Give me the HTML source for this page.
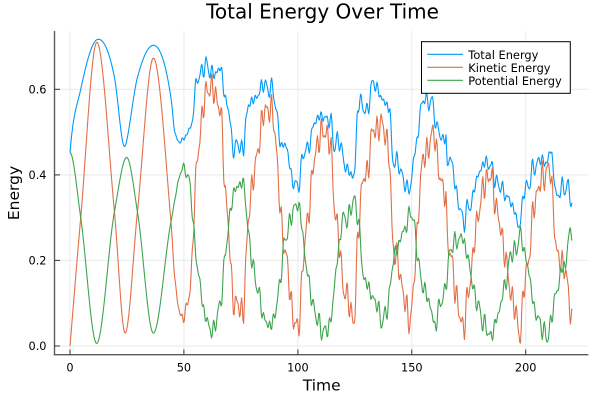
<!DOCTYPE html>
<html>
<head>
<meta charset="utf-8">
<style>
  html, body { margin: 0; padding: 0; background: #ffffff; }
  svg { display: block; }
  text { font-family: "DejaVu Sans", "Liberation Sans", sans-serif; fill: #000; }
</style>
</head>
<body>
<svg id="chart" width="600" height="400" viewBox="0 0 600 400" xmlns="http://www.w3.org/2000/svg">
  <rect x="0" y="0" width="600" height="400" fill="#ffffff"/>

  <!-- grid -->
  <g stroke="#e9e9e9" stroke-width="1">
    <line x1="70" y1="31" x2="70" y2="354.7"/>
    <line x1="183.9" y1="31" x2="183.9" y2="354.7"/>
    <line x1="297.9" y1="31" x2="297.9" y2="354.7"/>
    <line x1="411.8" y1="31" x2="411.8" y2="354.7"/>
    <line x1="525.7" y1="31" x2="525.7" y2="354.7"/>
    <line x1="54.5" y1="346" x2="588" y2="346"/>
    <line x1="54.5" y1="260.4" x2="588" y2="260.4"/>
    <line x1="54.5" y1="174.9" x2="588" y2="174.9"/>
    <line x1="54.5" y1="89.3" x2="588" y2="89.3"/>
  </g>

  <!-- series -->
  <g fill="none" stroke-width="1.1" stroke-linejoin="round">
    <path id="sT" stroke="#009AFA" d=""/>
    <path id="sK" stroke="#E36F47" d=""/>
    <path id="sP" stroke="#3EA44E" d=""/>
  </g>

  <!-- axes spines -->
  <g stroke="#5a5a5a" stroke-width="1.4" fill="none">
    <line x1="54.5" y1="31" x2="54.5" y2="355.4"/>
    <line x1="53.8" y1="354.7" x2="588.3" y2="354.7"/>
  </g>
  <!-- ticks (inward) -->
  <g stroke="#333" stroke-width="1">
    <line x1="70" y1="354.7" x2="70" y2="349.5"/>
    <line x1="183.9" y1="354.7" x2="183.9" y2="349.5"/>
    <line x1="297.9" y1="354.7" x2="297.9" y2="349.5"/>
    <line x1="411.8" y1="354.7" x2="411.8" y2="349.5"/>
    <line x1="525.7" y1="354.7" x2="525.7" y2="349.5"/>
    <line x1="54.5" y1="346" x2="60" y2="346"/>
    <line x1="54.5" y1="260.4" x2="60" y2="260.4"/>
    <line x1="54.5" y1="174.9" x2="60" y2="174.9"/>
    <line x1="54.5" y1="89.3" x2="60" y2="89.3"/>
  </g>

  <!-- tick labels -->
  <g font-size="11.3">
    <text x="70" y="371.5" text-anchor="middle">0</text>
    <text x="183.9" y="371.5" text-anchor="middle">50</text>
    <text x="297.9" y="371.5" text-anchor="middle">100</text>
    <text x="411.8" y="371.5" text-anchor="middle">150</text>
    <text x="525.7" y="371.5" text-anchor="middle">200</text>
    <text x="46.5" y="350.1" text-anchor="end">0.0</text>
    <text x="46.5" y="264.5" text-anchor="end">0.2</text>
    <text x="46.5" y="179" text-anchor="end">0.4</text>
    <text x="46.5" y="93.4" text-anchor="end">0.6</text>
  </g>

  <!-- title and axis labels -->
  <text x="322.5" y="18.5" font-size="20" text-anchor="middle">Total Energy Over Time</text>
  <text x="321.7" y="390.7" font-size="15.5" text-anchor="middle">Time</text>
  <text transform="translate(18.8,193) rotate(-90)" x="0" y="0" font-size="15.5" text-anchor="middle">Energy</text>

  <!-- legend -->
  <rect x="421.5" y="41.7" width="148.8" height="51.6" fill="#ffffff" stroke="#000" stroke-width="1"/>
  <line x1="427.3" y1="54.3" x2="463" y2="54.3" stroke="#009AFA" stroke-width="1.2"/>
  <line x1="427.3" y1="67.3" x2="463" y2="67.3" stroke="#E36F47" stroke-width="1.2"/>
  <line x1="427.3" y1="80.3" x2="463" y2="80.3" stroke="#3EA44E" stroke-width="1.2"/>
  <g font-size="11.4">
    <text x="468.3" y="58.8">Total Energy</text>
    <text x="468.3" y="71.8">Kinetic Energy</text>
    <text x="468.3" y="84.8">Potential Energy</text>
  </g>
</svg>

<script>
(function(){
  var K = [[0,0],[4.7,0.3],[11.8,0.71],[19.5,0.314],[24.2,0.03],[29.6,0.314],[36.6,0.673],[44.3,0.29],[46,0.16],[47.3,0.1],[49,0.067],[50.4,0.076],[52.6,0.13],[55.5,0.41],[58.4,0.55],[60.6,0.605],[63,0.595],[65,0.57],[66.5,0.52],[67.9,0.384],[69.4,0.287],[71.6,0.115],[74,0.09],[76,0.084],[77.4,0.21],[78.9,0.34],[81,0.404],[84,0.513],[86.2,0.556],[89,0.54],[90.5,0.466],[92.7,0.287],[94.9,0.21],[97.1,0.1],[100,0.037],[102.2,0.19],[104.4,0.3],[107.3,0.435],[109.5,0.49],[112.4,0.5],[114.6,0.45],[116,0.334],[117.5,0.27],[120.4,0.13],[122.5,0.1],[124.8,0.06],[126.2,0.24],[128.4,0.38],[130.6,0.41],[132.1,0.48],[134.3,0.51],[137,0.515],[140.1,0.44],[141.6,0.25],[144,0.19],[146.5,0.12],[148.9,0.06],[151.8,0.21],[154,0.4],[156,0.45],[158.4,0.48],[159.8,0.5],[161.2,0.443],[162.7,0.38],[164.9,0.36],[165.6,0.24],[167.8,0.2],[169.3,0.115],[171.5,0.069],[172.9,0.04],[174.4,0.115],[176.6,0.19],[178,0.27],[179.5,0.318],[181.7,0.373],[183.1,0.396],[185,0.39],[186.8,0.334],[189,0.27],[190.5,0.232],[192.6,0.147],[194.8,0.1],[197.4,0.03],[199.2,0.13],[201.4,0.21],[203.5,0.318],[205.7,0.373],[207.9,0.396],[210.1,0.416],[212.3,0.318],[213.7,0.21],[216.7,0.19],[218.9,0.115],[220.6,0.05]];
  var P = [[0,0.452],[4.7,0.3],[11.7,0.006],[19.5,0.314],[24.9,0.441],[29.6,0.314],[36.6,0.03],[44.3,0.29],[49.7,0.416],[51.5,0.4],[52.6,0.38],[54,0.287],[56.3,0.17],[59.2,0.076],[62.1,0.035],[64.3,0.06],[66.5,0.123],[68.7,0.24],[71.6,0.35],[74.5,0.38],[76.7,0.365],[78.1,0.27],[79.6,0.21],[81.8,0.147],[84,0.092],[86.9,0.047],[89.8,0.069],[92,0.147],[94.2,0.24],[97.1,0.3],[100,0.334],[102.2,0.256],[104.4,0.162],[107.3,0.084],[110.2,0.041],[112.4,0.033],[114.6,0.069],[116.8,0.178],[118.2,0.24],[119.7,0.295],[121.9,0.3],[124.8,0.34],[127,0.27],[128.4,0.178],[131.4,0.13],[134.3,0.1],[137.2,0.06],[139.4,0.092],[141.6,0.19],[143.7,0.232],[146.7,0.27],[149.6,0.31],[151.8,0.256],[153.2,0.178],[156.2,0.123],[159,0.076],[160.5,0.04],[162,0.1],[164.2,0.115],[166.4,0.21],[168.6,0.24],[170,0.248],[172.5,0.25],[174.4,0.21],[176.6,0.147],[178.7,0.1],[181.7,0.053],[184.6,0.025],[186.8,0.053],[189,0.1],[191.2,0.147],[193.3,0.21],[195.5,0.225],[197.7,0.256],[199.9,0.21],[202.1,0.147],[204.3,0.076],[206.5,0.053],[209.4,0.02],[211.6,0.076],[213.7,0.13],[215.9,0.178],[217.4,0.19],[218.9,0.256],[220.6,0.267]];

  function pchip(pts, startSlopeZero){
    var n = pts.length, x = [], y = [], h = [], d = [], m = [];
    for (var i=0;i<n;i++){ x.push(pts[i][0]); y.push(pts[i][1]); }
    for (i=0;i<n-1;i++){ h[i]=x[i+1]-x[i]; d[i]=(y[i+1]-y[i])/h[i]; }
    m[0] = startSlopeZero ? 0 : d[0];
    m[n-1] = d[n-2];
    for (i=1;i<n-1;i++){
      if (d[i-1]*d[i] <= 0) m[i]=0;
      else {
        var w1 = 2*h[i]+h[i-1], w2 = h[i]+2*h[i-1];
        m[i] = (w1+w2)/(w1/d[i-1] + w2/d[i]);
      }
    }
    return function(t){
      var j=0;
      while (j<n-2 && t>x[j+1]) j++;
      var hh=h[j], s=(t-x[j])/hh, s2=s*s, s3=s2*s;
      return (2*s3-3*s2+1)*y[j] + (s3-2*s2+s)*hh*m[j] + (-2*s3+3*s2)*y[j+1] + (s3-s2)*hh*m[j+1];
    };
  }

  var fK = pchip(K, false), fP = pchip(P, true);
  var TAU = Math.PI*2;
  function ramp(t){ var r=(t-44)/14; return r<0?0:(r>1?1:r); }
  function nKraw(t){ return 0.022*Math.sin(TAU*t/2.2+0.3) + 0.014*Math.sin(TAU*t/1.45+1.7) + 0.008*Math.sin(TAU*t/3.7+2.1); }
  function nK(t){ return ramp(t)*nKraw(t); }
  function nP(t){ return ramp(t)*(-0.55*nKraw(t) + 0.008*Math.sin(TAU*t/2.6+1.1)); }

  function X(t){ return 70 + 2.2785*t; }
  function Y(v){ return 346 - 427.8*v; }

  var dT=[], dK=[], dP=[];
  var tEnd = 220.6, dt = 0.3;
  for (var t=0; t<=tEnd+1e-9; t+=dt){
    var k = fK(t) + nK(t); if (k<0) k = Math.abs(k)*0.3;
    var p = fP(t) + nP(t); if (p<0) p = Math.abs(p)*0.3;
    var tot = k + p;
    var xs = X(t).toFixed(2);
    var c = dT.length ? 'L' : 'M';
    dT.push(c + xs + ' ' + Y(tot).toFixed(2));
    dK.push(c + xs + ' ' + Y(k).toFixed(2));
    dP.push(c + xs + ' ' + Y(p).toFixed(2));
  }
  document.getElementById('sT').setAttribute('d', dT.join(''));
  document.getElementById('sK').setAttribute('d', dK.join(''));
  document.getElementById('sP').setAttribute('d', dP.join(''));
})();
</script>
</body>
</html>
